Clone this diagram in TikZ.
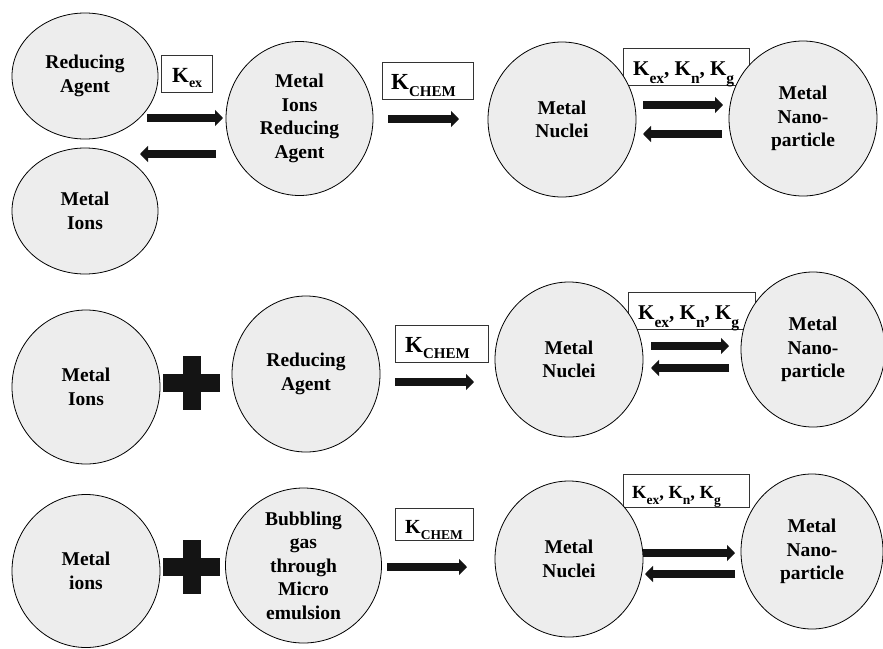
\documentclass[tikz,border=0pt]{standalone}
\usepackage{fontspec}
\setmainfont{Liberation Serif}
\usetikzlibrary{shapes.geometric,arrows.meta}
\definecolor{blobfill}{HTML}{EDEDED}
\definecolor{ink}{HTML}{141414}
\newcommand{\Kx}[4]{{\fontsize{#1}{#1}\selectfont K}\raisebox{-#3}{\fontsize{#2}{#2}\selectfont #4}}
\newcommand{\Ktri}[3]{\Kx{#1}{#2}{#3}{ex}{\fontsize{#1}{#1}\selectfont, }\Kx{#1}{#2}{#3}{n}{\fontsize{#1}{#1}\selectfont, }\Kx{#1}{#2}{#3}{g}}
\begin{document}
\begin{tikzpicture}[x=1pt,y=-1pt,
  blob/.style={ellipse, draw=black, line width=0.8pt, fill=blobfill, inner sep=0pt},
  ctext/.style={font=\fontsize{19.5}{23.5}\selectfont\bfseries, align=center, inner sep=0pt},
  kbox/.style={draw=black!80, line width=0.8pt, inner sep=0pt},
  klab/.style={anchor=base west, inner sep=0pt, font=\bfseries},
  rxn/.style={line width=8pt, -{Triangle[length=8pt,width=16pt]}, draw=ink},
  plusarm/.style={fill=ink}
]
\useasboundingbox (0,0) rectangle (883,648);

% ---------- boxes (frames) ----------
\node[kbox, minimum width=51pt, minimum height=37pt] (b1) at (186.5,73.5) {};
\node[kbox, minimum width=91pt, minimum height=37pt] (b2) at (427.5,80.5) {};
\node[kbox, minimum width=126pt, minimum height=37pt] (b3) at (686,66.5) {};
\node[kbox, minimum width=93pt, minimum height=37pt] (b4) at (441.5,343.5) {};
\node[kbox, minimum width=127pt, minimum height=37pt] (b5) at (691.5,310.5) {};
\node[kbox, minimum width=78pt, minimum height=32pt] (b6) at (434,524.5) {};
\node[kbox, minimum width=126pt, minimum height=33pt] (b7) at (686,490.5) {};

% ---------- row 1 ----------
\node[blob, minimum width=146pt, minimum height=126pt] (ra1) at (85,76) {};
\node[ctext] at (ra1) {Reducing\\Agent};
\node[blob, minimum width=146pt, minimum height=126pt] (mi1) at (85,211) {};
\node[ctext] at (mi1) {Metal\\Ions};
\node[blob, minimum width=147pt, minimum height=154pt] (mra) at (299.5,118.5) {};
\node[ctext] at (mra) {Metal\\Ions\\Reducing\\Agent};
\node[blob, minimum width=148pt, minimum height=155pt] (mn1) at (562,119.5) {};
\node[ctext] at (mn1) {Metal\\Nuclei};
\node[blob, minimum width=148pt, minimum height=155pt] (np1) at (803,118.5) {};
\node[ctext] at (np1) {Metal\\Nano-\\particle};

% ---------- row 2 ----------
\node[blob, minimum width=148pt, minimum height=154pt] (mi2) at (86,387) {};
\node[ctext] at (mi2) {Metal\\Ions};
\node[blob, minimum width=148pt, minimum height=156pt] (ra2) at (306,374) {};
\node[ctext] at (ra2) {Reducing\\Agent};
\node[blob, minimum width=148pt, minimum height=155pt] (mn2) at (569,359.5) {};
\node[ctext] at (mn2) {Metal\\Nuclei};
\node[blob, minimum width=144pt, minimum height=155pt] (np2) at (813,349.5) {};
\node[ctext] at (np2) {Metal\\Nano-\\particle};

% ---------- row 3 ----------
\node[blob, minimum width=148pt, minimum height=153pt] (mi3) at (86,571) {};
\node[ctext] at (mi3) {Metal\\ions};
\node[blob, minimum width=156pt, minimum height=155pt] (bg) at (303.5,565.5) {};
\node[ctext] at (bg) {Bubbling\\gas\\through\\Micro\\emulsion};
\node[blob, minimum width=148pt, minimum height=156pt] (mn3) at (569,559) {};
\node[ctext] at (mn3) {Metal\\Nuclei};
\node[blob, minimum width=142pt, minimum height=155pt] (np3) at (812,551.5) {};
\node[ctext] at (np3) {Metal\\Nano-\\particle};

% ---------- box labels ----------
\node[klab] at (172,82.7) {\Kx{21.6}{14}{5pt}{ex}};
\node[klab] at (391,89.3) {\Kx{23}{15}{7pt}{CHEM}};
\node[klab] at (633,75) {\Ktri{21}{15.5}{8pt}};
\node[klab] at (405,352) {\Kx{23}{15}{6pt}{CHEM}};
\node[klab] at (638,319) {\Ktri{21}{15.5}{8pt}};
\node[klab] at (405,533) {\Kx{20}{13.5}{6pt}{CHEM}};
\node[klab] at (632,498) {\Ktri{18.5}{13.5}{6pt}};

% ---------- plus signs ----------
\coordinate (p2) at (192,382.5);
\fill[plusarm] ([xshift=-29pt,yshift=9pt]p2) rectangle ([xshift=28pt,yshift=-9pt]p2);
\fill[plusarm] ([xshift=-9pt,yshift=27pt]p2) rectangle ([xshift=9pt,yshift=-27pt]p2);
\coordinate (p3) at (192,566.5);
\fill[plusarm] ([xshift=-29pt,yshift=9pt]p3) rectangle ([xshift=28pt,yshift=-9pt]p3);
\fill[plusarm] ([xshift=-9pt,yshift=27pt]p3) rectangle ([xshift=9pt,yshift=-27pt]p3);

% ---------- arrows ----------
\coordinate (a1s) at (147,118); \coordinate (a1e) at (223,118);
\coordinate (a2s) at (216,154); \coordinate (a2e) at (140,154);
\draw[rxn] (a1s) -- (a1e);
\draw[rxn] (a2s) -- (a2e);
\coordinate (a3s) at (388,119); \coordinate (a3e) at (459,119);
\draw[rxn] (a3s) -- (a3e);
\coordinate (a4s) at (643,105); \coordinate (a4e) at (723,105);
\coordinate (a5s) at (722,134); \coordinate (a5e) at (643,134);
\draw[rxn] (a4s) -- (a4e);
\draw[rxn] (a5s) -- (a5e);

\coordinate (a6s) at (395,382); \coordinate (a6e) at (474,382);
\draw[rxn] (a6s) -- (a6e);
\coordinate (a7s) at (651,346); \coordinate (a7e) at (729,346);
\coordinate (a8s) at (729,368); \coordinate (a8e) at (651,368);
\draw[rxn] (a7s) -- (a7e);
\draw[rxn] (a8s) -- (a8e);

\coordinate (a9s) at (387,567); \coordinate (a9e) at (467,567);
\draw[rxn] (a9s) -- (a9e);
\coordinate (a10s) at (643,553); \coordinate (a10e) at (735,553);
\coordinate (a11s) at (735,574); \coordinate (a11e) at (645,574);
\draw[rxn] (a10s) -- (a10e);
\draw[rxn] (a11s) -- (a11e);
\end{tikzpicture}
\end{document}
